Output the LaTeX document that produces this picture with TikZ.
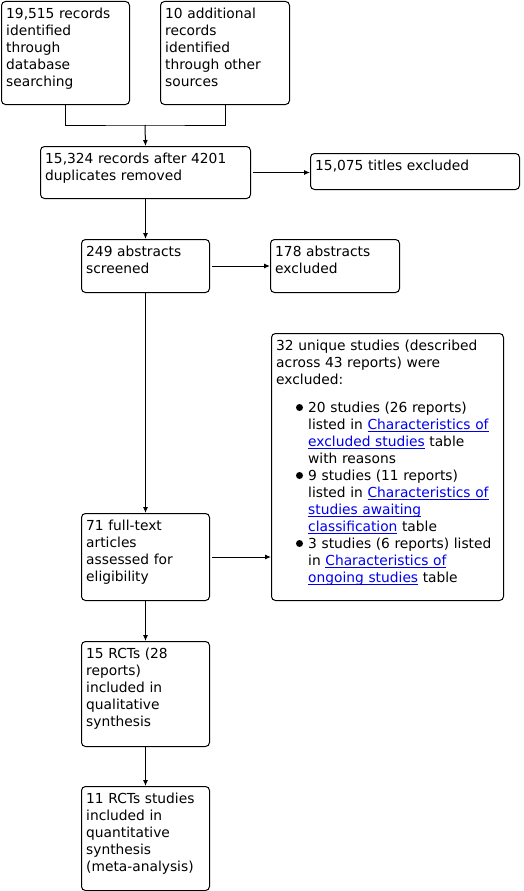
\documentclass[tikz,border=0pt]{standalone}
\usepackage{fontspec}
\setmainfont{DejaVu Sans}
\usetikzlibrary{arrows.meta}
\definecolor{linkblue}{RGB}{0,0,238}
\newcommand\lnk[1]{\leavevmode{\color{linkblue}\setbox0\hbox{#1}\rlap{\rule[-2.2pt]{\wd0}{0.9pt}}\box0}}
\tikzset{
  box/.style={draw=black, line width=1pt, rounded corners=4pt, inner sep=0pt, anchor=north west, fill=white},
  txt/.style={inner sep=0pt, anchor=north west, align=left, text width=240pt,
    font=\fontsize{13.8}{17}\selectfont},
  conn/.style={draw=black, line width=1pt},
  arr/.style={conn, -{Latex[length=6pt,width=5pt]}},
  bul/.style={circle, fill=black, inner sep=0pt, minimum size=7pt}
}
\begin{document}
\begin{tikzpicture}[x=1pt,y=-1pt]
\useasboundingbox (0,0) rectangle (523,891);
% boxes
\node[box, minimum width=128pt, minimum height=103pt] (A) at (1,1) {};
\node[box, minimum width=129pt, minimum height=103pt] (B) at (160,1) {};
\node[box, minimum width=210pt, minimum height=52pt] (C) at (40,146) {};
\node[box, minimum width=209pt, minimum height=36pt] (D) at (310,153) {};
\node[box, minimum width=128pt, minimum height=53pt] (E) at (81,239) {};
\node[box, minimum width=129pt, minimum height=53pt] (F) at (270,239) {};
\node[box, minimum width=232pt, minimum height=267pt] (G) at (271,333) {};
\node[box, minimum width=128pt, minimum height=87pt] (H) at (81,513) {};
\node[box, minimum width=128pt, minimum height=105pt] (I) at (81,641) {};
\node[box, minimum width=128pt, minimum height=104pt] (J) at (81,786) {};
% texts
\node[txt] (At) at ([shift={(5,5.1)}]A.north west) {\strut 19,515 records\\identified\\through\\database\\searching};
\node[txt] (Bt) at ([shift={(5,5.1)}]B.north west) {\strut 10 additional\\records\\identified\\through other\\sources};
\node[txt] (Ct) at ([shift={(5,5.1)}]C.north west) {\strut 15,324 records after 4201\\duplicates removed};
\node[txt] (Dt) at ([shift={(5,5.1)}]D.north west) {\strut 15,075 titles excluded};
\node[txt] (Et) at ([shift={(5,5.1)}]E.north west) {\strut 249 abstracts\\screened};
\node[txt] (Ft) at ([shift={(5,5.1)}]F.north west) {\strut 178 abstracts\\excluded};
\node[txt] (Gt) at ([shift={(5,5.1)}]G.north west) {\strut 32 unique studies (described\\across 43 reports) were\\excluded:};
\node[txt] (Gl) at (308,400.1) {\strut 20 studies (26 reports)\\listed in \lnk{Characteristics of}\\\lnk{excluded studies} table\\with reasons\\
9 studies (11 reports)\\listed in \lnk{Characteristics of}\\\lnk{studies awaiting}\\\lnk{classification} table\\
3 studies (6 reports) listed\\in \lnk{Characteristics of}\\\lnk{ongoing studies} table};
\node[bul] (b1) at (299.5,407.5) {};
\node[bul] (b2) at (299.5,475.5) {};
\node[bul] (b3) at (299.5,543.5) {};
\node[txt] (Ht) at ([shift={(5,5.1)}]H.north west) {\strut 71 full-text\\articles\\assessed for\\eligibility};
\node[txt] (It) at ([shift={(5,5.1)}]I.north west) {\strut 15 RCTs (28\\reports)\\included in\\qualitative\\synthesis};
\node[txt] (Jt) at ([shift={(5,5.1)}]J.north west) {\strut 11 RCTs studies\\included in\\quantitative\\synthesis\\(meta-analysis)};
% connectors
\coordinate (m) at (145,125);
\draw[conn] (A.south) |- (m) -| (B.south);
\draw[arr] (m) -- (C.north);
\draw[arr, shorten <=2pt] (C.east) -- (C.east -| D.west);
\draw[arr] (C.south) -- (E.north);
\draw[arr, shorten <=2pt] (E.east) -- (E.east -| F.west);
\draw[arr] (E.south) -- (H.north);
\draw[arr, shorten <=2pt] (H.east) -- (H.east -| G.west);
\draw[arr] (H.south) -- (I.north);
\draw[arr] (I.south) -- (J.north);
\end{tikzpicture}
\end{document}
